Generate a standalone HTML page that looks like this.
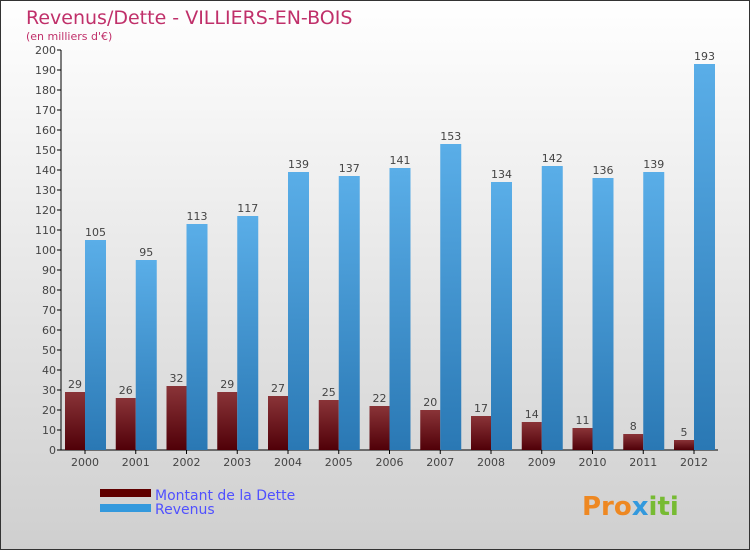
<!DOCTYPE html>
<html><head><meta charset="utf-8"><style>
body{margin:0;width:750px;height:550px;overflow:hidden;font-family:"DejaVu Sans","Liberation Sans",sans-serif;}
svg text{font-family:"DejaVu Sans","Liberation Sans",sans-serif;}
</style></head><body>
<svg id="chart" width="750" height="550" xmlns="http://www.w3.org/2000/svg">
<defs>
<linearGradient id="bg" x1="0" y1="0" x2="0" y2="1"><stop offset="0" stop-color="#ffffff"/><stop offset="1" stop-color="#cfcfcf"/></linearGradient>
<linearGradient id="gd" x1="0" y1="0" x2="0" y2="1"><stop offset="0" stop-color="#8a3438"/><stop offset="1" stop-color="#500008"/></linearGradient>
<linearGradient id="gr" x1="0" y1="0" x2="0" y2="1"><stop offset="0" stop-color="#5aaee8"/><stop offset="1" stop-color="#2a78b4"/></linearGradient>
</defs>
<rect x="0.5" y="0.5" width="749" height="549" fill="url(#bg)" stroke="#333"/>
<text x="26" y="24" font-size="19" fill="#c0306a">Revenus/Dette - VILLIERS-EN-BOIS</text>
<text x="26" y="40" font-size="11" fill="#c0306a">(en milliers d'€)</text>
<g id="axes"></g>
<g id="bars"></g>
<rect x="100" y="489" width="51" height="8" fill="#600000"/>
<text x="155" y="500" font-size="14" fill="#5050ff">Montant de la Dette</text>
<rect x="100" y="504" width="51" height="8" fill="#3399dd"/>
<text x="155" y="514" font-size="14" fill="#5050ff">Revenus</text>
<text x="582" y="515" font-size="26" font-weight="bold" fill="#ee8822">Pro<tspan fill="#3399dd">x</tspan><tspan fill="#77bb33">iti</tspan></text>
</svg>
<script>
const years=["2000","2001","2002","2003","2004","2005","2006","2007","2008","2009","2010","2011","2012"];
const dette=[29,26,32,29,27,25,22,20,17,14,11,8,5];
const revenus=[105,95,113,117,139,137,141,153,134,142,136,139,193];
const yTicks=[0,10,20,30,40,50,60,70,80,90,100,110,120,130,140,150,160,170,180,190,200];
const NS="http://www.w3.org/2000/svg";
const y0=450,yTop=50,yMax=200,x0=61,step=50.75;
function y(v){return y0-(v/yMax)*(y0-yTop);}
function gx(i){return 65+i*step;}
function mk(tag,attrs,parent){const e=document.createElementNS(NS,tag);for(const k in attrs)e.setAttribute(k,attrs[k]);parent.appendChild(e);return e;}
const ax=document.getElementById('axes'),bars=document.getElementById('bars');
const yl=mk('line',{x1:x0,y1:yTop,x2:x0,y2:y0,stroke:'#000'},ax);


const xl=mk('line',{x1:x0,y1:y0,x2:718,y2:y0,stroke:'#000'},ax);


yTicks.forEach(t=>{
 const l=mk('line',{x1:x0-4,y1:y(t),x2:x0,y2:y(t),stroke:'#000'},ax);
 
 
 const tx=mk('text',{x:x0-5,y:y(t)+4,'font-size':11,'text-anchor':'end',fill:'#444'},ax);
 tx.textContent=t;
 
 
});
years.forEach((yr,i)=>{
 const bx=gx(i);
 const d=mk('rect',{x:bx,y:y(dette[i]),width:20,height:y0-y(dette[i]),fill:'url(#gd)'},bars);
 
 
 const r=mk('rect',{x:bx+20,y:y(revenus[i]),width:21,height:y0-y(revenus[i]),fill:'url(#gr)'},bars);
 
 
 const dl=mk('text',{x:bx+10,y:y(dette[i])-4,'font-size':11,'text-anchor':'middle',fill:'#444'},bars);
 dl.textContent=dette[i];
 
 
 const rl=mk('text',{x:bx+30.5,y:y(revenus[i])-4,'font-size':11,'text-anchor':'middle',fill:'#444'},bars);
 rl.textContent=revenus[i];
 
 
 const tk=mk('line',{x1:bx+20,y1:y0,x2:bx+20,y2:y0+4,stroke:'#000'},ax);
 
 
 const xt=mk('text',{x:bx+20,y:y0+16,'font-size':11,'text-anchor':'middle',fill:'#444'},ax);
 xt.textContent=yr;
 
 
});
</script>
</body></html>
